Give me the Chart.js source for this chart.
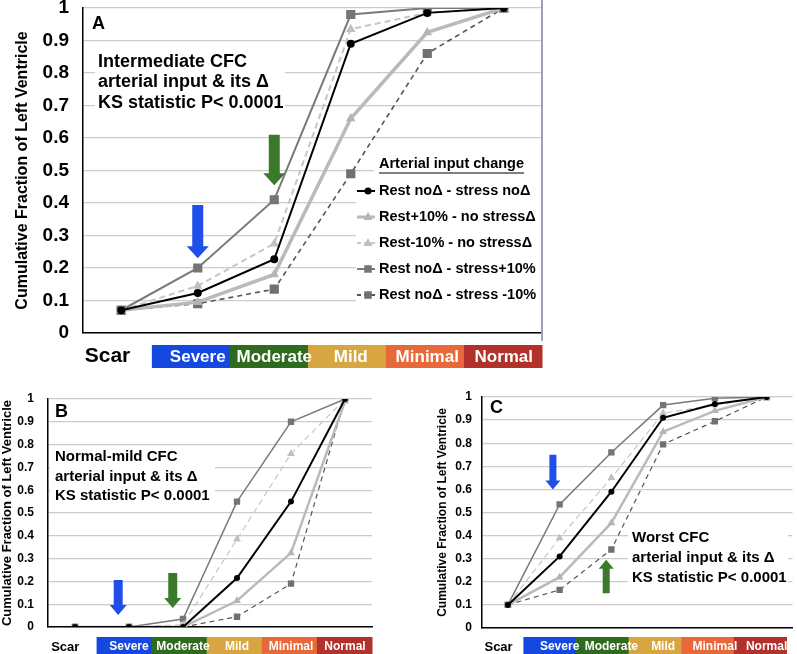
<!DOCTYPE html>
<html>
<head>
<meta charset="utf-8">
<script src="https://cdn.jsdelivr.net/npm/chart.js@4.4.1/dist/chart.umd.min.js"></script>
<style>
  body { margin: 0; background: #fff; width: 797px; height: 654px; position: relative; overflow: hidden; }
  canvas { position: absolute; }
  #chartA { left: 0; top: 0; }
  #chartB { left: 0; top: 380px; }
  #chartC { left: 400px; top: 380px; }
</style>
</head>
<body>
<canvas id="chartA" width="560" height="380"></canvas>
<canvas id="chartB" width="385" height="274"></canvas>
<canvas id="chartC" width="397" height="274"></canvas>
<script>
// categories along x (CFC severity)
const categories = ['Scar', 'Severe', 'Moderate', 'Mild', 'Minimal', 'Normal'];
const seriesNames = [
  'Rest no\u0394 - stress no\u0394',
  'Rest+10% - no stress\u0394',
  'Rest-10% - no stress\u0394',
  'Rest no\u0394 - stress+10%',
  'Rest no\u0394 - stress -10%'
];
const yTitle = 'Cumulative Fraction of Left Ventricle';

// Panel A - intermediate CFC
const aRestNoStressNo = [0.07, 0.123, 0.227, 0.89, 0.985, 1];
const aRestPlus10     = [0.07, 0.095, 0.18, 0.66, 0.925, 1];
const aRestMinus10    = [0.07, 0.145, 0.275, 0.935, 0.985, 1];
const aStressPlus10   = [0.07, 0.2, 0.41, 0.98, 1, 1];
const aStressMinus10  = [0.07, 0.09, 0.135, 0.49, 0.86, 1];
const aNote = ['Intermediate CFC', 'arterial input & its \u0394', 'KS statistic P< 0.0001'];
// arrows: category index, value at tail, value at tip
const aArrows = [[1, 0.394, 0.23], [2, 0.61, 0.455]];

// Panel B - normal-mild CFC
const bRestNoStressNo = [0, 0, 0, 0.215, 0.55, 1];
const bRestPlus10     = [0, 0, 0, 0.115, 0.325, 0.99];
const bRestMinus10    = [0, 0, 0.01, 0.385, 0.76, 1];
const bStressPlus10   = [0, 0, 0.035, 0.55, 0.9, 1];
const bStressMinus10  = [0, 0, 0, 0.045, 0.19, 1];
const bNote = ['Normal-mild CFC', 'arterial input & its \u0394', 'KS statistic P< 0.0001'];
const bArrows = [[0.8, 0.206, 0.053], [1.81, 0.237, 0.083]];

// Panel C - worst CFC
const cRestNoStressNo = [0.1, 0.31, 0.59, 0.91, 0.97, 1];
const cRestPlus10     = [0.1, 0.22, 0.455, 0.85, 0.94, 1];
const cRestMinus10    = [0.1, 0.39, 0.65, 0.93, 0.965, 1];
const cStressPlus10   = [0.1, 0.535, 0.76, 0.965, 0.995, 1];
const cStressMinus10  = [0.1, 0.165, 0.34, 0.795, 0.895, 1];
const cNote = ['Worst CFC', 'arterial input & its \u0394', 'KS statistic P< 0.0001'];
const cArrows = [[0.87, 0.75, 0.6], [1.9, 0.15, 0.295]];

const FONT = '"Liberation Sans", Arial, sans-serif';
Chart.defaults.font.family = FONT;

const lineColors  = ['#000000', '#bababa', '#c6c6c6', '#7a7a7a', '#555555'];
const pointColors = ['#000000', '#b4b4b4', '#c0c0c0', '#757575', '#707070'];
const dashes      = [[], [], [6, 4], [], [5, 4]];
const pStyles     = ['circle', 'triangle', 'triangle', 'rect', 'rect'];
const bandColors  = ['#1548e0', '#2f6b1f', '#d8a640', '#e8683a', '#b3312b'];
const arrowColors = ['#1f4fe8', '#3b7a2a'];

function drawMarker(ctx, style, x, y, r, color) {
  ctx.fillStyle = color;
  ctx.beginPath();
  if (style === 'circle') ctx.arc(x, y, r, 0, Math.PI * 2);
  else if (style === 'triangle') {
    ctx.moveTo(x, y - r); ctx.lineTo(x + r * 0.9, y + r * 0.6); ctx.lineTo(x - r * 0.9, y + r * 0.6); ctx.closePath();
  } else ctx.rect(x - r * 0.75, y - r * 0.75, r * 1.5, r * 1.5);
  ctx.fill();
}

function drawArrow(ctx, x, y0, y1, sw, hw, hh, color) {
  const dir = y1 > y0 ? 1 : -1;
  const yh = y1 - dir * hh;
  ctx.fillStyle = color;
  ctx.beginPath();
  ctx.moveTo(x - sw / 2, y0);
  ctx.lineTo(x + sw / 2, y0);
  ctx.lineTo(x + sw / 2, yh);
  ctx.lineTo(x + hw / 2, yh);
  ctx.lineTo(x, y1);
  ctx.lineTo(x - hw / 2, yh);
  ctx.lineTo(x - sw / 2, yh);
  ctx.closePath();
  ctx.fill();
}

const decor = {
  id: 'decor',
  beforeDatasetsDraw(chart, args, o) {
    const ctx = chart.ctx;
    ctx.save();
    ctx.fillStyle = '#fff';
    o.boxes.forEach(b => ctx.fillRect(b[0], b[1], b[2], b[3]));
    ctx.restore();
  },
  afterDraw(chart, args, o) {
    const ctx = chart.ctx, x = chart.scales.x, y = chart.scales.y, area = chart.chartArea;
    ctx.save();
    // right frame line (panel A)
    if (o.frame) {
      ctx.strokeStyle = '#9aa3b6'; ctx.lineWidth = 2;
      ctx.beginPath(); ctx.moveTo(area.right, 0); ctx.lineTo(area.right, area.bottom + 8); ctx.stroke();
    }
    // panel letter
    ctx.fillStyle = '#000';
    ctx.textBaseline = 'middle';
    ctx.textAlign = 'left';
    ctx.font = 'bold 18px ' + FONT;
    ctx.fillText(o.letter, o.letterX, o.letterY);
    // annotation
    ctx.font = 'bold ' + o.noteSize + 'px ' + FONT;
    o.note.forEach((t, i) => ctx.fillText(t, o.noteX, o.noteY + i * o.noteGap));
    // arrows
    o.arrows.forEach((a, i) => {
      drawArrow(ctx, x.getPixelForValue(a[0]), y.getPixelForValue(a[1]), y.getPixelForValue(a[2]),
        o.arrow[0], o.arrow[1], o.arrow[2], arrowColors[i]);
    });
    // legend
    if (o.legend) {
      const L = o.legend;
      ctx.fillStyle = '#000';
      ctx.font = 'bold 14.5px ' + FONT;
      ctx.fillText('Arterial input change', L.tx, L.ty);
      const tw = ctx.measureText('Arterial input change').width;
      ctx.strokeStyle = '#000'; ctx.lineWidth = 1.2;
      ctx.beginPath(); ctx.moveTo(L.tx, L.ty + 9); ctx.lineTo(L.tx + tw, L.ty + 9); ctx.stroke();
      seriesNames.forEach((s, i) => {
        const yy = L.row0 + i * L.gap;
        ctx.strokeStyle = lineColors[i];
        ctx.lineWidth = i === 1 ? 3 : 2;
        ctx.setLineDash(i === 2 || i === 4 ? [4, 3] : []);
        ctx.beginPath(); ctx.moveTo(L.x0, yy); ctx.lineTo(L.x1, yy); ctx.stroke();
        ctx.setLineDash([]);
        drawMarker(ctx, pStyles[i], (L.x0 + L.x1) / 2 + 2, yy, pStyles[i] === 'circle' ? 3.5 : 5, pointColors[i]);
        ctx.fillStyle = '#000';
        ctx.fillText(s, L.tx, yy);
      });
    }
    // severity bands under the axis
    const w = x.getPixelForValue(1) - x.getPixelForValue(0);
    const left = x.getPixelForValue(1) - w / 2 - o.bandLead * w;
    const each = (area.right - o.bandTrim - left) / 5;
    ctx.textAlign = 'center';
    for (let i = 1; i < categories.length; i++) {
      ctx.fillStyle = bandColors[i - 1];
      ctx.fillRect(left + (i - 1) * each, o.bandY, each + 0.5, o.bandH);
    }
    ctx.fillStyle = '#fff';
    ctx.font = 'bold ' + o.bandSize + 'px ' + FONT;
    for (let i = 1; i < categories.length; i++) {
      ctx.fillText(categories[i], x.getPixelForValue(i), o.bandY + o.bandH / 2 + 1);
    }
    ctx.fillStyle = '#000';
    ctx.font = 'bold ' + o.scarSize + 'px ' + FONT;
    ctx.fillText(categories[0], x.getPixelForValue(0) - w * 0.18, o.scarY);
    ctx.restore();
  }
};

function buildSets(vals, s) {
  return vals.map((v, i) => ({
    label: seriesNames[i],
    data: v,
    borderColor: lineColors[i],
    backgroundColor: pointColors[i],
    pointBackgroundColor: pointColors[i],
    pointBorderColor: pointColors[i],
    pointBorderWidth: 0,
    borderWidth: s.widths[i],
    borderDash: dashes[i],
    pointStyle: pStyles[i],
    pointRadius: s.radii[i],
    tension: 0
  }));
}

function makeChart(id, vals, s) {
  return new Chart(document.getElementById(id), {
    type: 'line',
    data: { labels: categories, datasets: buildSets(vals, s) },
    options: {
      responsive: false,
      animation: false,
      events: [],
      layout: { padding: { top: s.padTop, right: s.padRight, left: 0, bottom: 0 } },
      plugins: { legend: { display: false }, tooltip: { enabled: false }, decor: s.decor },
      scales: {
        x: {
          offset: true,
          grid: { display: false },
          ticks: { display: false },
          border: { color: '#000', width: 1.5 },
          afterFit: sc => { sc.height = s.xH; sc.paddingLeft = 0; sc.paddingRight = 0; }
        },
        y: {
          min: 0, max: 1,
          ticks: {
            stepSize: 0.1, color: '#000', padding: s.tickPad, font: { weight: 'bold', size: s.tickSize },
            callback: v => String(Math.round(v * 10) / 10)
          },
          grid: { color: '#cccccc', lineWidth: 1.2, drawTicks: false },
          border: { color: '#000', width: 1.5 },
          title: { display: true, text: yTitle, color: '#000', font: { weight: 'bold', size: s.titleSize }, padding: { top: s.titlePad, bottom: 0 } },
          afterFit: sc => { sc.width = s.yW; sc.paddingTop = 0; sc.paddingBottom = 0; }
        }
      }
    },
    plugins: [decor]
  });
}

makeChart('chartA', [aRestNoStressNo, aRestPlus10, aRestMinus10, aStressPlus10, aStressMinus10], {
  padTop: 8, padRight: 18, xH: 47, yW: 83, tickPad: 14, tickSize: 19, titleSize: 16, titlePad: 13,
  widths: [2, 3.5, 2, 2, 1.6], radii: [4, 5.5, 5.5, 6.5, 6.5],
  decor: {
    frame: true, letter: 'A', letterX: 92, letterY: 24,
    note: aNote, noteX: 98, noteY: 62, noteGap: 20.5, noteSize: 18,
    boxes: [[95, 45, 190, 70], [356, 176, 185, 150], [374, 150, 167, 26]],
    arrows: aArrows, arrow: [11, 22, 12],
    legend: { x0: 357, x1: 375, tx: 379, ty: 164, row0: 191, gap: 26 },
    bandLead: 0.1, bandTrim: 0, bandY: 345, bandH: 23, bandSize: 17, scarSize: 21, scarY: 356
  }
});

makeChart('chartB', [bRestNoStressNo, bRestPlus10, bRestMinus10, bStressPlus10, bStressMinus10], {
  padTop: 19, padRight: 13, xH: 27, yW: 48, tickPad: 14, tickSize: 12, titleSize: 13, titlePad: 0,
  widths: [2, 2.5, 1.2, 1.5, 1.2], radii: [3, 4.5, 4.5, 4.5, 4.5],
  decor: {
    frame: false, letter: 'B', letterX: 55, letterY: 32,
    note: bNote, noteX: 55, noteY: 77, noteGap: 19.5, noteSize: 15,
    boxes: [[50, 66, 165, 62]],
    arrows: bArrows, arrow: [9, 17, 10],
    legend: null,
    bandLead: 0.1, bandTrim: 0, bandY: 257, bandH: 17, bandSize: 12, scarSize: 13, scarY: 267
  }
});

makeChart('chartC', [cRestNoStressNo, cRestPlus10, cRestMinus10, cStressPlus10, cStressMinus10], {
  padTop: 17, padRight: 3, xH: 26, yW: 82, tickPad: 10, tickSize: 12, titleSize: 12, titlePad: 35,
  widths: [2, 2.5, 1.2, 1.5, 1.2], radii: [3, 4.5, 4.5, 4.5, 4.5],
  decor: {
    frame: false, letter: 'C', letterX: 90, letterY: 28,
    note: cNote, noteX: 232, noteY: 158, noteGap: 20, noteSize: 15,
    boxes: [[228, 146, 160, 64]],
    arrows: cArrows, arrow: [7, 15, 9],
    legend: null,
    bandLead: 0.2, bandTrim: 6, bandY: 257, bandH: 17, bandSize: 12, scarSize: 13, scarY: 267
  }
});
</script>
</body>
</html>
